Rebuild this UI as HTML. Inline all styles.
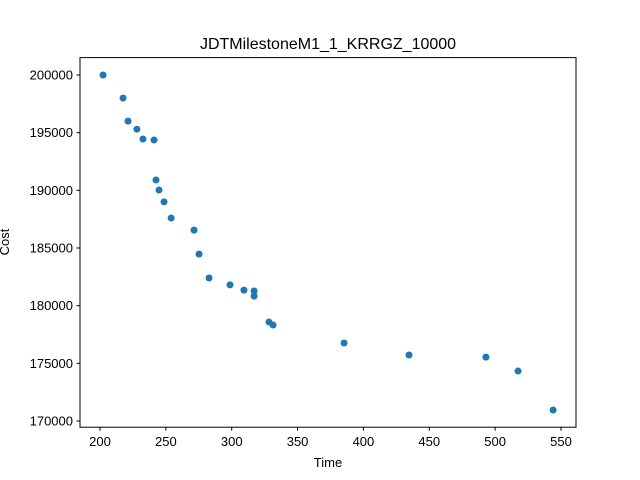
<!DOCTYPE html>
<html><head><meta charset="utf-8"><style>
body{margin:0;background:#fff;}
svg{display:block;font-family:"Liberation Sans","DejaVu Sans",sans-serif;}
</style></head><body>
<svg id="chart" width="640" height="480">
<rect width="640" height="480" fill="#fff"/>
<text x="328" y="49" text-anchor="middle" font-size="16">JDTMilestoneM1_1_KRRGZ_10000</text>
<g id="axes"></g>
<g id="points"></g>
<rect x="80" y="57.6" width="496" height="369.6" fill="none" stroke="#000" stroke-width="1"/>
<text x="328" y="467" text-anchor="middle" font-size="13">Time</text>
<text transform="translate(9,242) rotate(-90)" text-anchor="middle" font-size="13">Cost</text>
</svg>
<script>
const times=[202.3,217.5,221.3,228,232.6,241,242.5,244.8,248.6,254,271.4,275.2,282.8,298.7,309.3,317,317,328.3,331.4,385.3,434.6,493,517.4,544];
const costs=[200000,198000,196000,195300,194450,194360,190900,190030,189000,187600,186550,184470,182400,181800,181350,181270,180830,178580,178320,176760,175720,175540,174330,170950];
const xTicks=[200,250,300,350,400,450,500,550];
const yTicks=[170000,175000,180000,185000,190000,195000,200000];
const NS="http://www.w3.org/2000/svg";
function xs(v){return 100+(v-200)*461/350;}
function ys(v){return 75+(200000-v)*346/30000;}
const axes=document.getElementById('axes');
xTicks.forEach(t=>{
  const l=document.createElementNS(NS,'line');
  l.setAttribute('x1',xs(t));l.setAttribute('x2',xs(t));l.setAttribute('y1',427.2);l.setAttribute('y2',430.7);l.setAttribute('stroke','#000');
  
  
  axes.appendChild(l);
  const tx=document.createElementNS(NS,'text');
  tx.setAttribute('x',xs(t));tx.setAttribute('y',446);tx.setAttribute('text-anchor','middle');tx.setAttribute('font-size','13');
  tx.textContent=t;
  
  
  axes.appendChild(tx);
});
yTicks.forEach(t=>{
  const l=document.createElementNS(NS,'line');
  l.setAttribute('x1',76.5);l.setAttribute('x2',80);l.setAttribute('y1',ys(t));l.setAttribute('y2',ys(t));l.setAttribute('stroke','#000');
  
  
  axes.appendChild(l);
  const tx=document.createElementNS(NS,'text');
  tx.setAttribute('x',73);tx.setAttribute('y',ys(t)+4.5);tx.setAttribute('text-anchor','end');tx.setAttribute('font-size','13');
  tx.textContent=t;
  
  
  axes.appendChild(tx);
});
const pts=document.getElementById('points');
times.forEach((t,i)=>{
  const c=document.createElementNS(NS,'circle');
  c.setAttribute('cx',xs(t));c.setAttribute('cy',ys(costs[i]));c.setAttribute('r',3.5);c.setAttribute('fill','#1f77b4');
  
  
  pts.appendChild(c);
});
</script>
</body></html>
